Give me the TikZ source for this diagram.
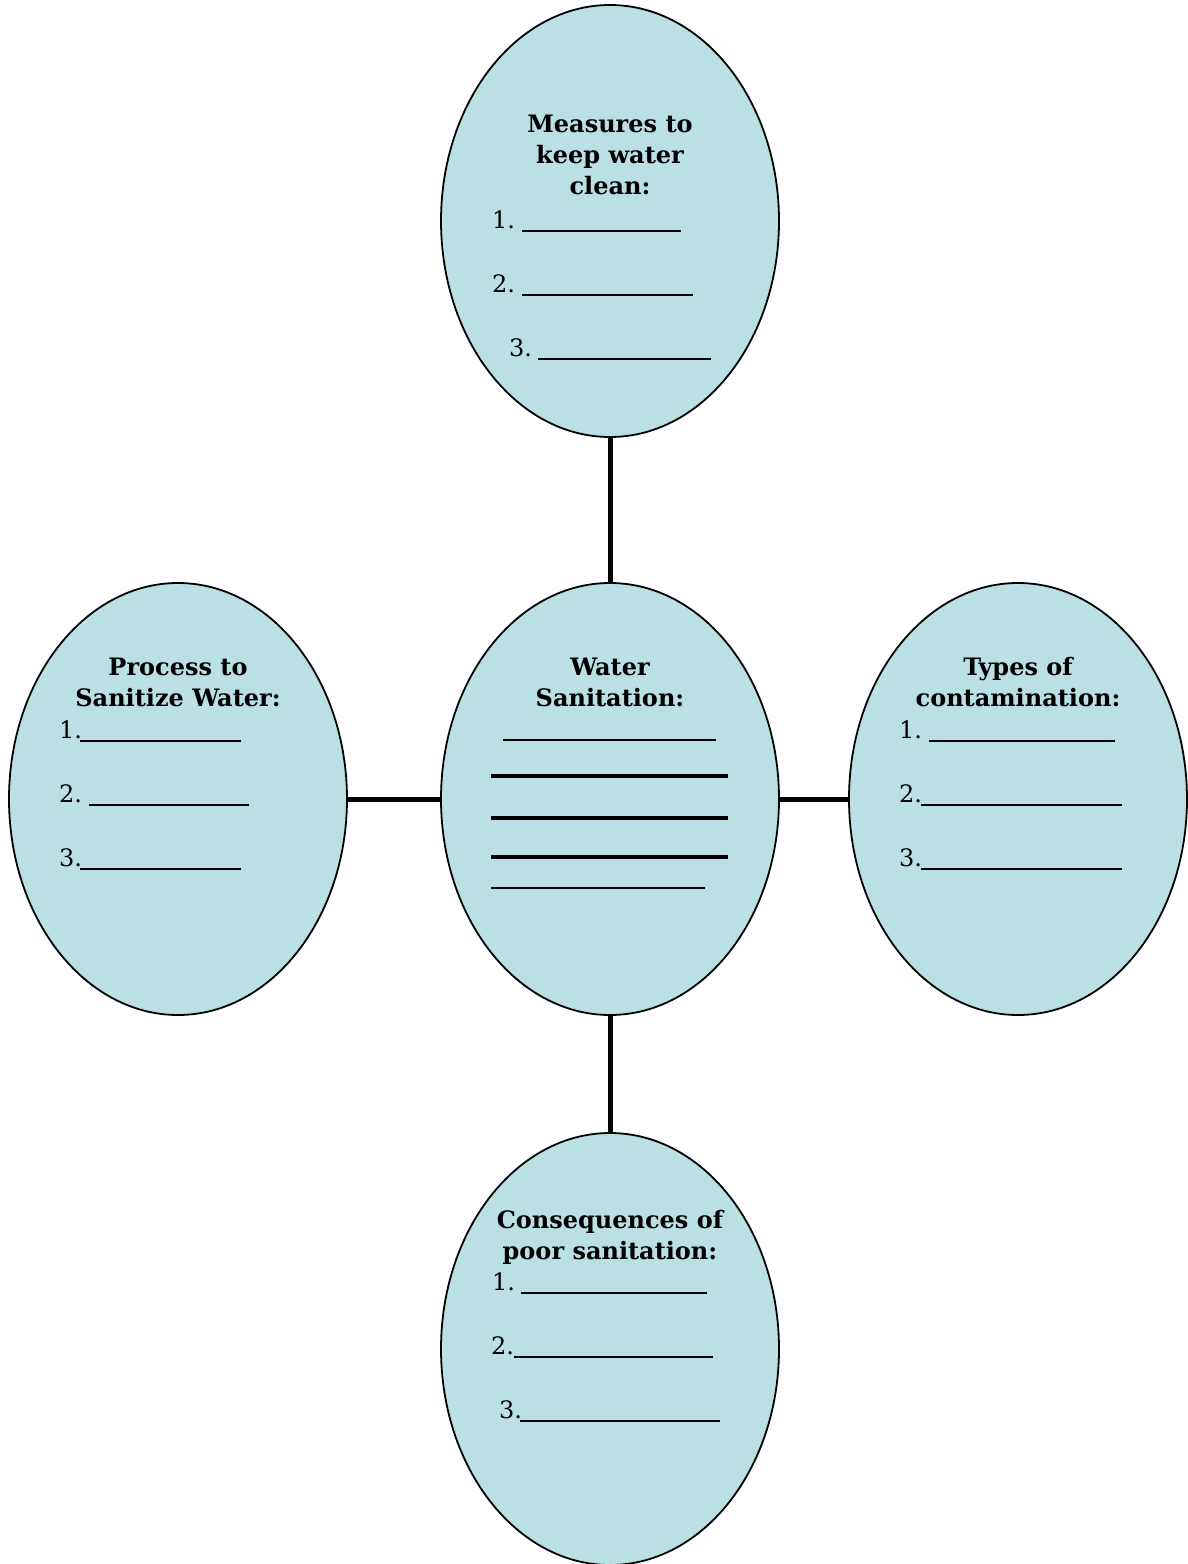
\documentclass[tikz,border=0pt]{standalone}
\usepackage{fontspec}
\setmainfont{DejaVu Serif}
\usetikzlibrary{shapes.geometric}
\definecolor{bubble}{RGB}{186,224,227}
\tikzset{
  x=1pt,y=-1pt,
  bub/.style={ellipse,draw=black,line width=1.8pt,fill=bubble,minimum width=338pt,minimum height=432pt,inner sep=0pt},
  link/.style={line width=5pt},
  head/.style={font=\fontsize{24}{31}\selectfont\bfseries,align=center,anchor=base,inner sep=0pt},
  num/.style={font=\fontsize{24}{28}\selectfont,anchor=base west,inner sep=0pt},
  blank/.style={line width=1.3pt},
  thick blank/.style={line width=3.8pt}
}
\begin{document}
\begin{tikzpicture}
\useasboundingbox (0,0) rectangle (1187,1564);
% bubbles
\node[bub] (top) at (610,221) {};
\node[bub] (mid) at (610,799) {};
\node[bub] (lft) at (178,799) {};
\node[bub] (rgt) at (1018,799) {};
\node[bub] (bot) at (610,1349) {};
% connectors
\draw[link] (top.south) -- (mid.north);
\draw[link] (mid.south) -- (bot.north);
\draw[link] (lft.east) -- (mid.west);
\draw[link] (mid.east) -- (rgt.west);
% top bubble
\node[head] (th) at (610,194) {Measures to\\keep water\\clean:};
\node[num] (t1) at (492,228) {1.};
\node[num] (t2) at (492,292) {2.};
\node[num] (t3) at (509,356) {3.};
\coordinate (t1a) at (522,231); \coordinate (t1b) at (681,231);
\coordinate (t2a) at (522,295); \coordinate (t2b) at (693,295);
\coordinate (t3a) at (538,359); \coordinate (t3b) at (711,359);
\draw[blank] (t1a) -- (t1b); \draw[blank] (t2a) -- (t2b); \draw[blank] (t3a) -- (t3b);
% centre bubble
\node[head] (mh) at (610,706) {Water\\Sanitation:};
\coordinate (m1a) at (503,740); \coordinate (m1b) at (716,740);
\coordinate (m2a) at (491,776); \coordinate (m2b) at (728,776);
\coordinate (m3a) at (491,818); \coordinate (m3b) at (728,818);
\coordinate (m4a) at (491,857); \coordinate (m4b) at (728,857);
\coordinate (m5a) at (491,888); \coordinate (m5b) at (705,888);
\draw[blank] (m1a) -- (m1b);
\draw[thick blank] (m2a) -- (m2b);
\draw[thick blank] (m3a) -- (m3b);
\draw[thick blank] (m4a) -- (m4b);
\draw[blank] (m5a) -- (m5b);
% left bubble
\node[head] (lh) at (178,706) {Process to\\Sanitize Water:};
\node[num] (l1) at (59,738) {1.};
\node[num] (l2) at (59,802) {2.};
\node[num] (l3) at (59,866) {3.};
\coordinate (l1a) at (80,741); \coordinate (l1b) at (241,741);
\coordinate (l2a) at (89,805); \coordinate (l2b) at (249,805);
\coordinate (l3a) at (80,869); \coordinate (l3b) at (241,869);
\draw[blank] (l1a) -- (l1b); \draw[blank] (l2a) -- (l2b); \draw[blank] (l3a) -- (l3b);
% right bubble
\node[head] (rh) at (1018,706) {Types of\\contamination:};
\node[num] (r1) at (899,738) {1.};
\node[num] (r2) at (899,802) {2.};
\node[num] (r3) at (899,866) {3.};
\coordinate (r1a) at (929,741); \coordinate (r1b) at (1115,741);
\coordinate (r2a) at (921,805); \coordinate (r2b) at (1122,805);
\coordinate (r3a) at (921,869); \coordinate (r3b) at (1122,869);
\draw[blank] (r1a) -- (r1b); \draw[blank] (r2a) -- (r2b); \draw[blank] (r3a) -- (r3b);
% bottom bubble
\node[head] (bh) at (610,1259) {Consequences of\\poor sanitation:};
\node[num] (b1) at (492,1290) {1.};
\node[num] (b2) at (491,1354) {2.};
\node[num] (b3) at (499,1418) {3.};
\coordinate (b1a) at (521,1293); \coordinate (b1b) at (707,1293);
\coordinate (b2a) at (514,1357); \coordinate (b2b) at (713,1357);
\coordinate (b3a) at (520,1421); \coordinate (b3b) at (720,1421);
\draw[blank] (b1a) -- (b1b); \draw[blank] (b2a) -- (b2b); \draw[blank] (b3a) -- (b3b);
\end{tikzpicture}
\end{document}
